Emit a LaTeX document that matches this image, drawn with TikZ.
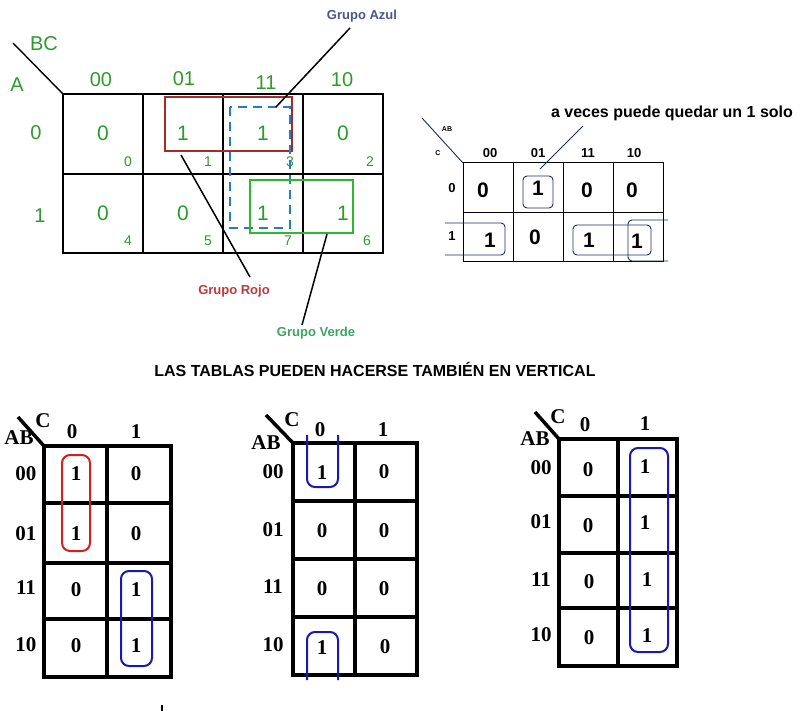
\documentclass[tikz,border=0pt]{standalone}
\usepackage{fontspec}
\setmainfont{Liberation Sans}
\newfontfamily\tnr{Liberation Serif}
\definecolor{kgreen}{HTML}{2E9A2E}
\definecolor{grpblue}{HTML}{4A5592}
\definecolor{grpred}{HTML}{C0393F}
\definecolor{grpgreen}{HTML}{3FA35F}
\definecolor{rectred}{HTML}{A52A2A}
\definecolor{rectblue}{HTML}{2B7BC4}
\definecolor{rectgreen}{HTML}{2DB82D}
\definecolor{navy}{HTML}{1E2A6E}
\definecolor{bred}{HTML}{D02020}
\definecolor{bblue}{HTML}{1A1AAA}
\newcommand{\fsz}[1]{\fontsize{#1}{#1}\selectfont}
\tikzset{
  gtxt/.style={text=kgreen,font=\fsz{20},inner sep=0pt},
  gval/.style={text=kgreen,font=\fsz{21},inner sep=0pt},
  gidx/.style={text=kgreen,font=\fsz{14},inner sep=0pt},
  grp/.style={font=\bfseries\fsz{13},inner sep=0pt},
  rval/.style={font=\bfseries\fsz{21},inner sep=0pt},
  rhead/.style={font=\bfseries\fsz{13},inner sep=0pt},
  rtiny/.style={font=\bfseries\fsz{7},inner sep=0pt},
  tval/.style={font=\tnr\bfseries\fsz{21},inner sep=0pt},
  tgrid/.style={line width=4pt,line join=miter},
  tgrp/.style={line width=2pt,rounded corners=8pt},
}
\begin{document}
\begin{tikzpicture}[x=1pt,y=-1pt]
\useasboundingbox[fill=white] (0,0) rectangle (801,711);
% ---------- top-left K-map ----------
\draw[line width=1.6pt] (63,94) rectangle (383,253);
\draw[line width=1.6pt] (143,94) -- (143,253) (223,94) -- (223,253) (303,94) -- (303,253) (63,174) -- (383,174);
\draw[line width=1.4pt] (13,43) -- (63,94);
\node[gtxt] (bc) at (44,44) {BC};
\node[gtxt] (a) at (17,85) {A};
\node[gtxt] (h00) at (101,80) {00};
\node[gtxt] (h01) at (184,79) {01};
\node[gtxt] (h11) at (266,83) {11};
\node[gtxt] (h10) at (342,80) {10};
\node[gtxt] (r0) at (36,133) {0};
\node[gtxt] (r1) at (40,216) {1};
\node[gval] (c0) at (103,133) {0};
\node[gval] (c1) at (183,133) {1};
\node[gval] (c3) at (263,133) {1};
\node[gval] (c2) at (343,133) {0};
\node[gval] (c4) at (103,213) {0};
\node[gval] (c5) at (183,213) {0};
\node[gval] (c7) at (263,213) {1};
\node[gval] (c6) at (343,213) {1};
\node[gidx] (i0) at (128,162) {0};
\node[gidx] (i1) at (208,162) {1};
\node[gidx] (i3) at (290,162) {3};
\node[gidx] (i2) at (370,162) {2};
\node[gidx] (i4) at (128,241) {4};
\node[gidx] (i5) at (208,241) {5};
\node[gidx] (i7) at (288,241) {7};
\node[gidx] (i6) at (367,241) {6};
\draw[rectred,line width=1.3pt] (165,97) rectangle (292,151);
\draw[rectblue,line width=2.6pt,dash pattern=on 9pt off 6pt] (230,107) rectangle (290,228);
\draw[rectgreen,line width=2.6pt] (250,180) rectangle (353,233);
\node[grp,text=grpblue] (ga) at (362,16) {Grupo Azul};
\node[grp,text=grpred] (gr) at (234,291) {Grupo Rojo};
\node[grp,text=grpgreen] (gv) at (316,333) {Grupo Verde};
\coordinate (pa) at (276,107);
\coordinate (pr) at (181,155);
\coordinate (pv) at (327,234);
\draw[line width=1.5pt] (pa) -- (350,28);
\draw[line width=1.5pt] (pr) -- (250,277);
\draw[line width=1.5pt] (pv) -- (302,325);
% ---------- top-right K-map ----------
\draw[line width=1pt] (463,163) rectangle (663,262);
\draw[line width=1pt] (513,163) -- (513,262) (563,163) -- (563,262) (613,163) -- (613,262) (463,213) -- (663,213);
\draw[navy,line width=0.9pt] (422,118) -- (463,163);
\node[rtiny] (ab) at (447,129) {AB};
\node[rtiny] (cc) at (438,153) {C};
\node[rhead] (q00) at (490,153) {00};
\node[rhead] (q01) at (538,153) {01};
\node[rhead] (q11) at (588,153) {11};
\node[rhead] (q10) at (634,153) {10};
\node[rhead] (q0) at (452,188) {0};
\node[rhead] (q1) at (452,236) {1};
\node[rval] (v00) at (483,190) {0};
\node[rval] (v01) at (538,188) {1};
\node[rval] (v11) at (587,190) {0};
\node[rval] (v10) at (632,190) {0};
\node[rval] (w00) at (490,240) {1};
\node[rval] (w01) at (535,237) {0};
\node[rval] (w11) at (589,240) {1};
\node[rval] (w10) at (637,241) {1};
\draw[navy,line width=0.9pt,rounded corners=4pt] (523,176) rectangle (553,208);
\draw[navy,line width=0.9pt,rounded corners=4pt] (445,223) -- (505,223) -- (505,255) -- (445,255);
\draw[navy,line width=0.9pt,rounded corners=4pt] (573,225) rectangle (651,255);
\draw[navy,line width=0.9pt,rounded corners=4pt] (668,220) -- (628,220) -- (628,261) -- (668,261);
\coordinate (ps) at (540,169);
\node[font=\bfseries\fsz{16},inner sep=0pt] (solo) at (672,113) {a veces puede quedar un 1 solo};
\draw[navy,line width=0.9pt] (ps) -- (583,126);
% ---------- title ----------
\node[font=\bfseries\fsz{16},inner sep=0pt] (title) at (375,369) {LAS TABLAS PUEDEN HACERSE TAMBIÉN EN VERTICAL};
% ---------- bottom table 1 ----------
\draw[tgrid] (44,446) rectangle (171,677);
\draw[tgrid] (107,446) -- (107,677) (44,503) -- (171,503) (44,563) -- (171,563) (44,619) -- (171,619);
\draw[line width=3.5pt] (18,417) -- (44,446);
\node[tval] (t1c) at (43,421) {C};
\node[tval] (t1ab) at (19,438) {AB};
\node[tval] (t1h0) at (72,432) {0};
\node[tval] (t1h1) at (136,432) {1};
\node[tval] (t1r0) at (26,474) {00};
\node[tval] (t1r1) at (26,534) {01};
\node[tval] (t1r2) at (26,588) {11};
\node[tval] (t1r3) at (26,645) {10};
\node[tval] at (76,474) {1}; \node[tval] at (136,474) {0};
\node[tval] at (76,534) {1}; \node[tval] at (136,534) {0};
\node[tval] at (76,590) {0}; \node[tval] at (136,590) {1};
\node[tval] at (76,646) {0}; \node[tval] at (136,646) {1};
\draw[tgrp,bred] (62,455) rectangle (90,551);
\draw[tgrp,bblue] (121,571) rectangle (152,666);
% ---------- bottom table 2 ----------
\draw[tgrid] (293,443) rectangle (417,675);
\draw[tgrid] (355,443) -- (355,675) (293,501) -- (417,501) (293,559) -- (417,559) (293,617) -- (417,617);
\draw[line width=3.5pt] (266,415) -- (293,443);
\node[tval] (t2c) at (292,420) {C};
\node[tval] (t2ab) at (266,443) {AB};
\node[tval] (t2h0) at (320,430) {0};
\node[tval] (t2h1) at (383,430) {1};
\node[tval] (t2r0) at (273,472) {00};
\node[tval] (t2r1) at (273,530) {01};
\node[tval] (t2r2) at (273,587) {11};
\node[tval] (t2r3) at (273,645) {10};
\node[tval] at (322,473) {1}; \node[tval] at (384,472) {0};
\node[tval] at (322,531) {0}; \node[tval] at (384,531) {0};
\node[tval] at (322,589) {0}; \node[tval] at (384,589) {0};
\node[tval] at (322,648) {1}; \node[tval] at (385,647) {0};
\draw[tgrp,bblue] (307,435) -- (307,487) -- (338,487) -- (338,435);
\draw[tgrp,bblue] (307,680) -- (307,632) -- (338,632) -- (338,680);
% ---------- bottom table 3 ----------
\draw[tgrid] (559,439) rectangle (677,666);
\draw[tgrid] (618,439) -- (618,666) (559,496) -- (677,496) (559,553) -- (677,553) (559,608) -- (677,608);
\draw[line width=3.5pt] (535,412) -- (559,439);
\node[tval] (t3c) at (558,417) {C};
\node[tval] (t3ab) at (535,439) {AB};
\node[tval] (t3h0) at (585,425) {0};
\node[tval] (t3h1) at (645,424) {1};
\node[tval] (t3r0) at (541,468) {00};
\node[tval] (t3r1) at (541,522) {01};
\node[tval] (t3r2) at (541,580) {11};
\node[tval] (t3r3) at (541,635) {10};
\node[tval] at (588,470) {0}; \node[tval] at (645,467) {1};
\node[tval] at (588,526) {0}; \node[tval] at (645,523) {1};
\node[tval] at (589,582) {0}; \node[tval] at (647,580) {1};
\node[tval] at (589,638) {0}; \node[tval] at (647,636) {1};
\draw[tgrp,bblue] (630,448) rectangle (668,652);
% stray tick
\draw[line width=1.5pt] (162,705) -- (162,711);
\end{tikzpicture}
\end{document}
